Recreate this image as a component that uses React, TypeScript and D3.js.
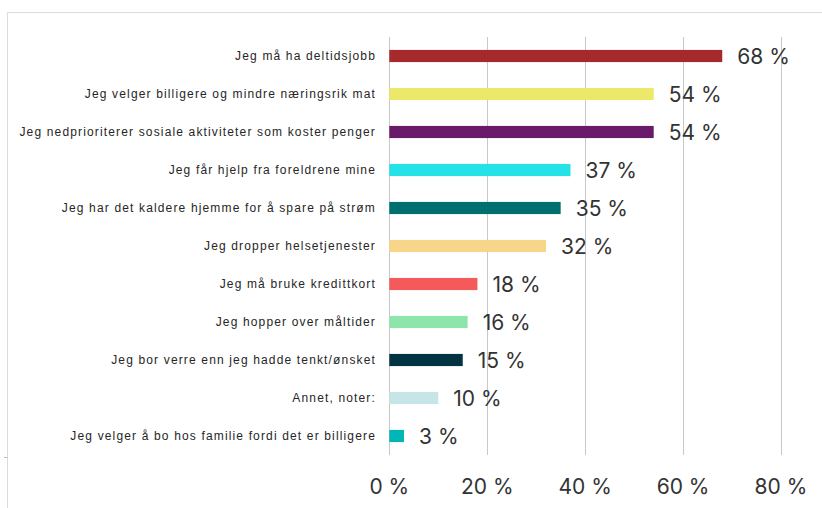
import React from 'react';
import * as d3 from 'd3';

const categories = [
  'Jeg må ha deltidsjobb',
  'Jeg velger billigere og mindre næringsrik mat',
  'Jeg nedprioriterer sosiale aktiviteter som koster penger',
  'Jeg får hjelp fra foreldrene mine',
  'Jeg har det kaldere hjemme for å spare på strøm',
  'Jeg dropper helsetjenester',
  'Jeg må bruke kredittkort',
  'Jeg hopper over måltider',
  'Jeg bor verre enn jeg hadde tenkt/ønsket',
  'Annet, noter:',
  'Jeg velger å bo hos familie fordi det er billigere',
];

const values = [68, 54, 54, 37, 35, 32, 18, 16, 15, 10, 3];

const colors = [
  '#a6292b', '#ebe86a', '#6a1a6a', '#25e1e8', '#00706e', '#f7d68a',
  '#f55a5a', '#8de5ac', '#013342', '#c5e5e6', '#00b6b6',
];

const ticks = [0, 20, 40, 60, 80];

export default function App() {
  const width = 822;
  const height = 508;

  const x = d3.scaleLinear().domain([0, 80]).range([389.3, 781]);
  const y = d3.scaleBand().domain(categories).range([37, 455]).paddingInner(0.68).paddingOuter(0.34);

  const gridTop = 37;
  const gridBottom = 455;

  return (
    <div style={{ position: 'absolute', left: 0, top: 0 }}>
      <svg width={width} height={height} style={{ display: 'block' }}>
        <rect width={width} height={height} fill="#fff" />
        {/* frame */}
        <line x1={7.5} x2={width} y1={12.5} y2={12.5} stroke="#dcdcdc" />
        <line x1={7.5} x2={7.5} y1={12.5} y2={height} stroke="#dcdcdc" />
        <line x1={4} x2={7.5} y1={457.5} y2={457.5} stroke="#bbbbbb" />

        {/* gridlines */}
        {ticks.map((t) => (
          <line key={t} x1={Math.round(x(t)) + 0.5} x2={Math.round(x(t)) + 0.5} y1={gridTop} y2={gridBottom} stroke="#c8c8c8" />
        ))}

        {/* bars */}
        {categories.map((c, i) => (
          <rect key={c} x={x(0)} y={y(c)} width={x(values[i]) - x(0)} height={y.bandwidth()} fill={colors[i]} />
        ))}

        {/* category labels */}
        {categories.map((c) => (
          <text
            key={c}
            x={376}
            y={(y(c) ?? 0) + y.bandwidth() / 2}
            dy="0.35em"
            textAnchor="end"
            fontFamily="'Liberation Sans', Arial, sans-serif"
            fontSize={12}
            letterSpacing={1.15}
            fill="#262626"
          >
            {c}
          </text>
        ))}

        {/* value labels */}
        {categories.map((c, i) => (
          <text
            key={c}
            x={x(values[i]) + 15}
            y={(y(c) ?? 0) + y.bandwidth() / 2}
            dy="0.36em"
            fontFamily="Inter, 'Open Sans', sans-serif"
            fontSize={21}
            fill="#333"
          >
            {values[i]} %
          </text>
        ))}

        {/* x tick labels */}
        {ticks.map((t) => (
          <text
            key={t}
            x={x(t)}
            y={494}
            textAnchor="middle"
            fontFamily="Inter, 'Open Sans', sans-serif"
            fontSize={21}
            fill="#333"
          >
            {t} %
          </text>
        ))}
      </svg>
    </div>
  );
}
